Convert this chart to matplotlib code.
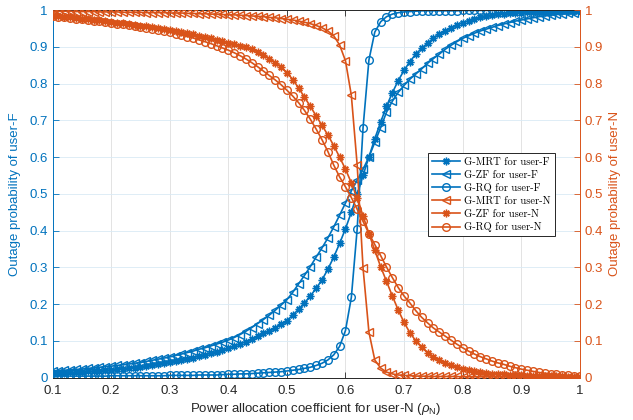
import numpy as np
import matplotlib
matplotlib.use('Agg')
import matplotlib.pyplot as plt
from matplotlib.ticker import FuncFormatter

plt.rcParams['font.family'] = ['Liberation Sans', 'DejaVu Sans']
plt.rcParams['mathtext.fontset'] = 'custom'
plt.rcParams['mathtext.rm'] = 'Liberation Sans'
plt.rcParams['mathtext.it'] = 'Liberation Sans:italic'

# power allocation coefficient rho_N
rho = np.round(np.arange(0.10, 1.001, 0.01), 2)

# outage probability of user-F (left axis)
mrt_f = [0.012, 0.013, 0.013, 0.014, 0.015, 0.016, 0.017, 0.018, 0.019, 0.020,
         0.021, 0.022, 0.024, 0.025, 0.027, 0.029, 0.031, 0.033, 0.036, 0.039,
         0.042, 0.045, 0.048, 0.051, 0.054, 0.058, 0.062, 0.066, 0.070, 0.075,
         0.080, 0.086, 0.092, 0.098, 0.105, 0.112, 0.120, 0.128, 0.136, 0.145,
         0.155, 0.170, 0.186, 0.203, 0.222, 0.243, 0.266, 0.295, 0.328, 0.365,
         0.405, 0.450, 0.500, 0.550, 0.600, 0.650, 0.695, 0.738, 0.775, 0.808,
         0.836, 0.860, 0.880, 0.896, 0.910, 0.923, 0.934, 0.944, 0.952, 0.960,
         0.966, 0.971, 0.976, 0.980, 0.983, 0.986, 0.988, 0.990, 0.991, 0.992,
         0.993, 0.994, 0.995, 0.995, 0.996, 0.996, 0.997, 0.997, 0.998, 0.998,
         0.998]
zf_f = [0.018, 0.019, 0.020, 0.021, 0.022, 0.023, 0.025, 0.026, 0.028, 0.030,
        0.031, 0.033, 0.035, 0.037, 0.039, 0.041, 0.044, 0.047, 0.050, 0.053,
        0.056, 0.060, 0.064, 0.068, 0.072, 0.077, 0.081, 0.086, 0.091, 0.096,
        0.102, 0.109, 0.117, 0.126, 0.136, 0.147, 0.158, 0.170, 0.183, 0.197,
        0.212, 0.232, 0.255, 0.278, 0.302, 0.328, 0.353, 0.380, 0.410, 0.442,
        0.475, 0.508, 0.537, 0.567, 0.600, 0.640, 0.680, 0.722, 0.752, 0.776,
        0.795, 0.812, 0.826, 0.840, 0.855, 0.868, 0.880, 0.893, 0.904, 0.914,
        0.923, 0.930, 0.937, 0.943, 0.948, 0.953, 0.958, 0.962, 0.966, 0.970,
        0.973, 0.976, 0.979, 0.982, 0.984, 0.986, 0.988, 0.990, 0.992, 0.993,
        0.995]
rq_f = [0.004, 0.004, 0.004, 0.004, 0.004, 0.004, 0.004, 0.004, 0.004, 0.004,
        0.005, 0.005, 0.005, 0.005, 0.005, 0.005, 0.005, 0.005, 0.005, 0.005,
        0.006, 0.006, 0.006, 0.006, 0.006, 0.007, 0.007, 0.007, 0.007, 0.008,
        0.009, 0.009, 0.010, 0.010, 0.011, 0.012, 0.013, 0.014, 0.015, 0.016,
        0.018, 0.020, 0.022, 0.025, 0.028, 0.033, 0.039, 0.048, 0.062, 0.085,
        0.128, 0.218, 0.405, 0.680, 0.864, 0.940, 0.968, 0.982, 0.989, 0.993,
        0.995, 0.996, 0.997, 0.998, 0.998, 0.998, 0.998, 0.998, 0.998, 0.998,
        0.999, 0.999, 0.999, 0.999, 0.999, 0.999, 0.999, 0.999, 0.999, 0.999,
        0.999, 0.999, 0.999, 0.999, 0.999, 0.999, 0.999, 0.999, 0.999, 0.999,
        0.999]

# outage probability of user-N (right axis)
mrt_n = [0.997, 0.997, 0.997, 0.997, 0.996, 0.996, 0.996, 0.996, 0.995, 0.995,
         0.995, 0.995, 0.994, 0.994, 0.994, 0.994, 0.993, 0.993, 0.993, 0.993,
         0.992, 0.992, 0.992, 0.991, 0.991, 0.990, 0.990, 0.989, 0.989, 0.988,
         0.987, 0.987, 0.986, 0.985, 0.984, 0.983, 0.982, 0.980, 0.979, 0.977,
         0.975, 0.973, 0.970, 0.967, 0.963, 0.958, 0.952, 0.943, 0.930, 0.905,
         0.862, 0.768, 0.578, 0.298, 0.124, 0.048, 0.026, 0.015, 0.010, 0.007,
         0.006, 0.005, 0.004, 0.004, 0.003, 0.003, 0.003, 0.003, 0.003, 0.003,
         0.002, 0.002, 0.002, 0.002, 0.002, 0.002, 0.002, 0.002, 0.002, 0.002,
         0.001, 0.001, 0.001, 0.001, 0.001, 0.001, 0.001, 0.001, 0.001, 0.001,
         0.001]
zf_n = [0.985, 0.984, 0.982, 0.980, 0.979, 0.977, 0.975, 0.974, 0.972, 0.970,
        0.968, 0.966, 0.964, 0.962, 0.960, 0.958, 0.956, 0.954, 0.952, 0.949,
        0.946, 0.943, 0.940, 0.937, 0.934, 0.930, 0.927, 0.923, 0.919, 0.915,
        0.911, 0.907, 0.903, 0.899, 0.894, 0.887, 0.878, 0.868, 0.857, 0.845,
        0.830, 0.811, 0.788, 0.763, 0.738, 0.712, 0.686, 0.660, 0.631, 0.600,
        0.567, 0.530, 0.488, 0.440, 0.392, 0.346, 0.302, 0.262, 0.222, 0.184,
        0.150, 0.122, 0.100, 0.082, 0.068, 0.056, 0.047, 0.040, 0.034, 0.029,
        0.024, 0.020, 0.017, 0.015, 0.013, 0.011, 0.010, 0.009, 0.008, 0.007,
        0.006, 0.005, 0.005, 0.004, 0.004, 0.003, 0.003, 0.003, 0.002, 0.002,
        0.002]
rq_n = [0.983, 0.982, 0.980, 0.978, 0.977, 0.975, 0.973, 0.971, 0.969, 0.967,
        0.965, 0.963, 0.961, 0.959, 0.957, 0.954, 0.952, 0.949, 0.946, 0.943,
        0.940, 0.936, 0.932, 0.928, 0.924, 0.919, 0.914, 0.909, 0.903, 0.897,
        0.891, 0.884, 0.876, 0.867, 0.857, 0.846, 0.834, 0.822, 0.810, 0.797,
        0.782, 0.766, 0.748, 0.727, 0.703, 0.676, 0.647, 0.615, 0.578, 0.546,
        0.519, 0.490, 0.458, 0.425, 0.392, 0.362, 0.332, 0.301, 0.272, 0.245,
        0.222, 0.203, 0.182, 0.164, 0.149, 0.135, 0.124, 0.113, 0.102, 0.091,
        0.081, 0.072, 0.064, 0.057, 0.051, 0.045, 0.040, 0.036, 0.031, 0.027,
        0.023, 0.020, 0.017, 0.014, 0.012, 0.010, 0.009, 0.007, 0.006, 0.005,
        0.004]

blue = '#0072BD'
orange = '#D95319'
dark = '#262626'

fig = plt.figure(figsize=(6.33, 4.2), dpi=100)
ax = fig.add_axes([0.083, 0.101, 0.833, 0.875])
ax2 = ax.twinx()

asterisk = (8, 2, 0)
kw = dict(lw=1.2, ms=5.5, mew=1.0, mfc='none')

h1, = ax.plot(rho, mrt_f, color=blue, marker=asterisk, label='G-MRT for user-F', **kw)
h2, = ax.plot(rho, zf_f, color=blue, marker='<', label='G-ZF for user-F', **kw)
h3, = ax.plot(rho, rq_f, color=blue, marker='o', label='G-RQ for user-F', **kw)
h4, = ax2.plot(rho, mrt_n, color=orange, marker='<', label='G-MRT for user-N', **kw)
h5, = ax2.plot(rho, zf_n, color=orange, marker=asterisk, label='G-ZF for user-N', **kw)
h6, = ax2.plot(rho, rq_n, color=orange, marker='o', label='G-RQ for user-N', **kw)

ticks = np.round(np.arange(0, 1.01, 0.1), 1)
fmt = FuncFormatter(lambda v, p: '%g' % v)
for a in (ax, ax2):
    a.set_xlim(0.1, 1)
    a.set_ylim(0, 1)
    a.set_yticks(ticks)
    a.yaxis.set_major_formatter(fmt)
ax.set_xticks(ticks[1:])
ax.xaxis.set_major_formatter(fmt)

ax.set_axisbelow(True)
ax.xaxis.grid(True, color='#dedede', lw=0.6)
ax.yaxis.grid(True, color='#d9eaf5', lw=0.6)

ax.tick_params(axis='x', direction='in', top=True, length=4, width=0.6,
               colors=dark, labelsize=9.5, pad=5)
ax.tick_params(axis='y', direction='in', length=4, width=0.6,
               colors=blue, labelsize=9.5)
ax2.tick_params(axis='y', direction='in', length=4, width=0.6,
                colors=orange, labelsize=9.5)

for s in ('top', 'bottom'):
    ax.spines[s].set_color(dark)
    ax2.spines[s].set_visible(False)
ax.spines['left'].set_color(blue)
ax.spines['right'].set_visible(False)
ax2.spines['left'].set_visible(False)
ax2.spines['right'].set_color(orange)
for a in (ax, ax2):
    for s in a.spines.values():
        s.set_linewidth(0.7)

ax.set_xlabel(r'Power allocation coefficient for user-N ($\rho_\mathrm{N}$)',
              fontsize=9.5, color=dark, labelpad=3)
ax.set_ylabel('Outage probability of user-F', fontsize=9.5, color=blue, labelpad=6)
ax2.set_ylabel('Outage probability of user-N', fontsize=9.5, color=orange)

leg = ax2.legend(handles=[h1, h2, h3, h4, h5, h6], loc='upper left',
                 bbox_to_anchor=(0.712, 0.611), prop={'family': 'cmr10', 'size': 7.6},
                 fancybox=False, framealpha=1, edgecolor=dark,
                 handlelength=2.6, handletextpad=0.4, labelspacing=0.32,
                 borderpad=0.4, borderaxespad=0)
leg.get_frame().set_linewidth(0.7)

fig.savefig('out.png', dpi=100)
